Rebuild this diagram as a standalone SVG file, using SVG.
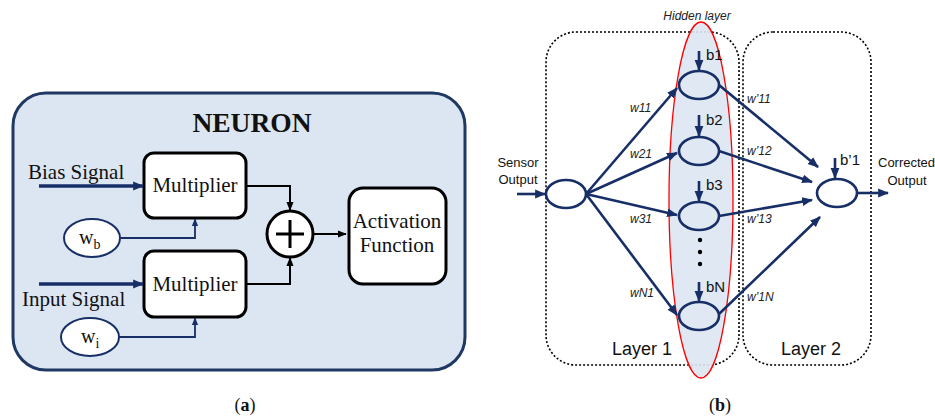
<svg xmlns="http://www.w3.org/2000/svg" width="935" height="416" viewBox="0 0 935 416">
<defs>
<style>
.serif{font-family:"Liberation Serif","Times New Roman",serif;fill:#111}
.sans{font-family:"Liberation Sans",Arial,sans-serif;fill:#111}
.box{fill:#fff;stroke:#000;stroke-width:3}
.navy{stroke:#172f66;fill:none}
.blk{stroke:#000;fill:none;stroke-width:2}
.node{fill:none;stroke:#172f66;stroke-width:2.6}
.dot{fill:none;stroke:#000;stroke-width:1.6;stroke-dasharray:2 2}
.edge{stroke:#172f66;stroke-width:2.6;fill:none;marker-end:url(#an)}
.wl{font-family:"Liberation Sans",Arial,sans-serif;font-style:italic;font-size:12px;fill:#222}
.bl{font-family:"Liberation Sans",Arial,sans-serif;font-size:15px;fill:#111}
</style>
<marker id="an" viewBox="0 0 10 10" refX="9" refY="5" markerWidth="11" markerHeight="11" markerUnits="userSpaceOnUse" orient="auto"><path d="M0,1 L10,5 L0,9 z" fill="#172f66"/></marker>
<marker id="as" viewBox="0 0 10 10" refX="9" refY="5" markerWidth="8" markerHeight="8" markerUnits="userSpaceOnUse" orient="auto"><path d="M0,1 L10,5 L0,9 z" fill="#172f66"/></marker>
<marker id="ab" viewBox="0 0 10 10" refX="9" refY="5" markerWidth="9" markerHeight="9" markerUnits="userSpaceOnUse" orient="auto"><path d="M0,1 L10,5 L0,9 z" fill="#000"/></marker>
</defs>

<!-- Panel (a) -->
<g id="neuron">
<rect x="13" y="93" width="452" height="277" rx="33" fill="#dce6f2" stroke="#1f3864" stroke-width="3"/>
<text x="252" y="132" text-anchor="middle" class="serif" font-size="27.5" font-weight="bold">NEURON</text>
</g>
<g id="mult1">
<rect x="144" y="153" width="102" height="65" rx="10" class="box"/>
<text x="195" y="192" text-anchor="middle" class="serif" font-size="21">Multiplier</text>
</g>
<g id="mult2">
<rect x="144" y="251" width="102" height="66" rx="10" class="box"/>
<text x="195" y="291" text-anchor="middle" class="serif" font-size="21">Multiplier</text>
</g>
<g id="wb">
<ellipse cx="92" cy="238" rx="28" ry="19" fill="#fff" stroke="#172f66" stroke-width="2"/>
<text x="79" y="244" class="serif" font-size="20">w<tspan font-size="14" dy="5">b</tspan></text>
</g>
<g id="wi">
<ellipse cx="90" cy="337" rx="29" ry="19" fill="#fff" stroke="#172f66" stroke-width="2"/>
<text x="81" y="343" class="serif" font-size="20">w<tspan font-size="14" dy="5">i</tspan></text>
</g>
<g id="sum">
<circle cx="290" cy="234" r="23" fill="#fff" stroke="#000" stroke-width="3"/>
<path d="M276,234 H304 M290,220 V248" stroke="#000" stroke-width="3"/>
</g>
<g id="activation">
<rect x="349" y="188" width="97" height="96" rx="14" class="box"/>
<text x="397" y="228" text-anchor="middle" class="serif" font-size="21">Activation</text>
<text x="397" y="252" text-anchor="middle" class="serif" font-size="21">Function</text>
</g>
<g id="a-labels">
<text x="28" y="179" class="serif" font-size="21">Bias Signal</text>
<text x="22" y="306" class="serif" font-size="21">Input Signal</text>
<text x="245" y="411" text-anchor="middle" class="serif" font-size="18">(<tspan font-weight="bold">a</tspan>)</text>
</g>
<g id="a-connectors">
<path d="M39,186 H143" class="navy" stroke-width="3.5" marker-end="url(#an)"/>
<path d="M39,284 H143" class="navy" stroke-width="3.5" marker-end="url(#an)"/>
<path d="M120,238 H195 V219" class="navy" stroke-width="1.8" marker-end="url(#as)"/>
<path d="M119,337 H195 V318" class="navy" stroke-width="1.8" marker-end="url(#as)"/>
<path d="M246,186 H290 V210" class="blk" marker-end="url(#ab)"/>
<path d="M246,284 H290 V258" class="blk" marker-end="url(#ab)"/>
<path d="M313,234 H346" class="blk" marker-end="url(#ab)"/>
</g>

<!-- Panel (b) -->
<g id="layer1">
<rect x="546" y="32" width="193" height="333" rx="30" class="dot"/>
<text x="642" y="355" text-anchor="middle" class="sans" font-size="18">Layer 1</text>
</g>
<g id="layer2">
<rect x="743" y="32" width="128" height="333" rx="30" class="dot"/>
<text x="811" y="355" text-anchor="middle" class="sans" font-size="18">Layer 2</text>
</g>
<g id="hidden-layer">
<ellipse cx="701" cy="200" rx="32" ry="178" fill="#dce6f2" fill-opacity="0.9" stroke="#ff0000" stroke-width="1.3"/>
<text x="697" y="20" text-anchor="middle" class="wl" font-size="12.5">Hidden layer</text>
</g>
<g id="sensor">
<ellipse cx="566" cy="194" rx="20" ry="14" class="node"/>
<text x="518" y="167" text-anchor="middle" class="sans" font-size="13">Sensor</text>
<text x="518" y="184" text-anchor="middle" class="sans" font-size="13">Output</text>
</g>
<g id="h1">
<ellipse cx="699" cy="85" rx="20" ry="14" class="node"/>
<text x="706" y="60" class="bl">b1</text>
</g>
<g id="h2">
<ellipse cx="699" cy="151" rx="20" ry="14" class="node"/>
<text x="706" y="125" class="bl">b2</text>
</g>
<g id="h3">
<ellipse cx="699" cy="216" rx="20" ry="14" class="node"/>
<text x="706" y="190" class="bl">b3</text>
</g>
<g id="hN">
<ellipse cx="699" cy="316" rx="20" ry="14" class="node"/>
<text x="706" y="292" class="bl">bN</text>
</g>
<g id="dots">
<circle cx="700" cy="240" r="2.2" fill="#000"/>
<circle cx="700" cy="252" r="2.2" fill="#000"/>
<circle cx="700" cy="264" r="2.2" fill="#000"/>
</g>
<g id="out">
<ellipse cx="837" cy="193" rx="20" ry="14" class="node"/>
<text x="840" y="165" class="bl">b’1</text>
<text x="878" y="167" class="sans" font-size="13">Corrected</text>
<text x="907" y="185" text-anchor="middle" class="sans" font-size="13">Output</text>
</g>
<g id="b-connectors">
<path d="M517,194 H545" class="edge"/>
<path d="M699,51 V70" class="edge"/>
<path d="M699,115 V136" class="edge"/>
<path d="M699,181 V201" class="edge"/>
<path d="M699,282 V301" class="edge"/>
<path d="M835,158 V178" class="edge"/>
<path d="M857,193 H888" class="edge"/>
<path d="M586,194 L677,88" class="edge"/>
<path d="M586,194 L677,153" class="edge"/>
<path d="M586,194 L677,215" class="edge"/>
<path d="M586,194 L677,315" class="edge"/>
<path d="M719,85 L818,167" class="edge"/>
<path d="M719,151 L812,182" class="edge"/>
<path d="M719,216 L812,200" class="edge"/>
<path d="M719,314 L820,217" class="edge"/>
</g>
<g id="b-labels">
<text x="630" y="112" class="wl">w11</text>
<text x="630" y="158" class="wl">w21</text>
<text x="630" y="223" class="wl">w31</text>
<text x="630" y="297" class="wl">wN1</text>
<text x="747" y="103" class="wl">w’11</text>
<text x="747" y="155" class="wl">w’12</text>
<text x="747" y="223" class="wl">w’13</text>
<text x="747" y="301" class="wl">w’1N</text>
<text x="720" y="411" text-anchor="middle" class="serif" font-size="18">(<tspan font-weight="bold">b</tspan>)</text>
</g>
</svg>
